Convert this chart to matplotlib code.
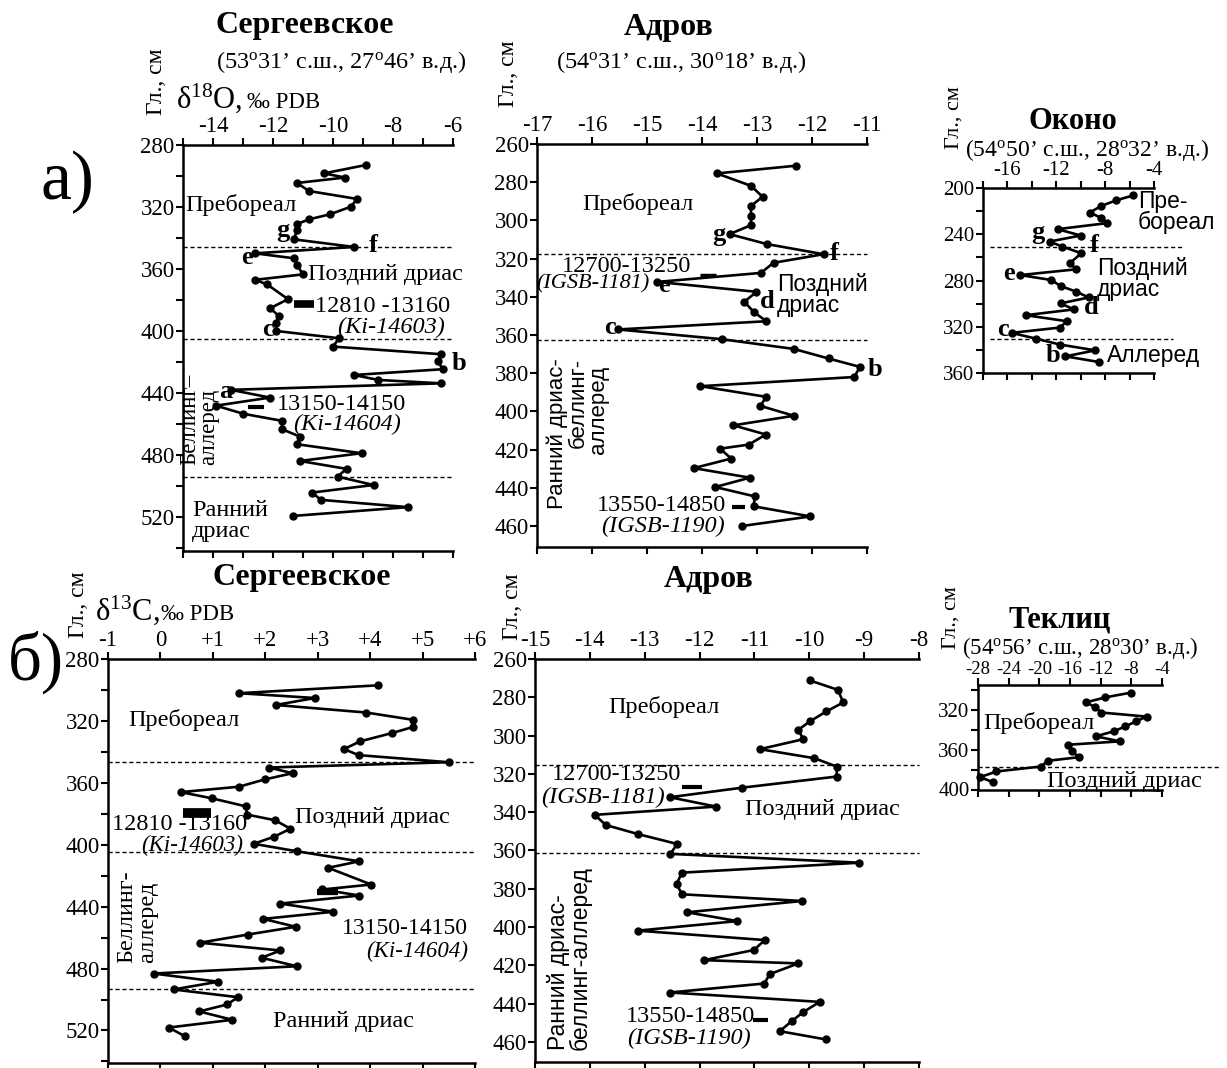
import matplotlib
matplotlib.use("Agg")
import matplotlib.pyplot as plt
import matplotlib.transforms as mtransforms
from matplotlib.ticker import FixedLocator

plt.rcParams['font.family'] = ['Liberation Serif', 'DejaVu Serif']
plt.rcParams['mathtext.fontset'] = 'custom'
plt.rcParams['mathtext.rm'] = 'Liberation Serif'
plt.rcParams['mathtext.default'] = 'regular'
plt.rcParams['axes.unicode_minus'] = False

# ---- а) δ18O, Сергеевское
serg_o_depth = [292.9, 298.3, 301.0, 304.5, 309.7, 314.8, 319.8, 324.7, 328.0, 331.0,
                334.8, 340.9, 345.8, 349.9, 353.1, 357.4, 363.5, 367.0, 369.9, 379.5,
                385.4, 390.3, 394.6, 400.0, 404.7, 410.1, 415.0, 419.4, 424.7, 428.4,
                431.6, 433.8, 438.0, 443.0, 448.2, 453.4, 458.0, 463.4, 468.2, 473.1,
                478.9, 483.9, 489.0, 494.0, 499.4, 504.3, 509.0, 513.7, 519.4]
serg_o_val = [-8.9, -10.3, -9.6, -11.2, -10.8, -9.2, -9.4, -10.1, -10.8, -11.2,
              -11.2, -11.3, -9.3, -12.6, -11.3, -11.2, -11.0, -12.6, -12.2, -11.5,
              -12.1, -11.8, -11.9, -11.9, -9.8, -10.0, -6.4, -6.5, -6.35, -9.3,
              -8.5, -6.4, -13.4, -12.1, -13.9, -13.0, -11.7, -11.7, -11.1, -11.2,
              -9.05, -11.1, -9.55, -9.85, -8.65, -10.7, -10.4, -7.5, -11.35]
serg_o_bounds = [345.8, 405.0, 494.0]
serg_o_date_depth = [382.3, 449.0]
serg_o_date_lo = [-11.3, -12.85]
serg_o_date_hi = [-10.65, -12.3]

# ---- а) δ18O, Адров
adr_o_depth = [271.4, 275.4, 281.9, 287.6, 292.5, 297.6, 302.5, 307.2, 312.4, 317.7,
               322.2, 327.5, 332.2, 337.4, 342.6, 347.9, 352.8, 357.1, 362.2, 367.3,
               372.3, 376.7, 382.0, 386.8, 392.4, 397.1, 402.3, 407.3, 412.1, 417.4,
               419.5, 424.7, 429.7, 434.7, 439.6, 444.5, 449.7, 455.0, 460.0]
adr_o_val = [-12.3, -13.73, -13.11, -12.9, -13.11, -13.11, -13.11, -13.5, -12.82, -11.79,
             -12.7, -12.93, -14.81, -13.01, -13.23, -13.06, -12.83, -15.53, -13.64, -12.33,
             -11.7, -11.13, -11.23, -14.03, -12.83, -12.94, -12.33, -13.43, -12.84, -13.15,
             -13.67, -13.47, -14.15, -13.13, -13.76, -13.04, -13.06, -12.03, -13.27]
adr_o_bounds = [317.7, 362.4]
adr_o_date_depth = [328.5, 450.3]
adr_o_date_lo = [-14.03, -13.45]
adr_o_date_hi = [-13.74, -13.21]

# ---- а) δ18O, Оконо
okono_depth = [206.4, 210.7, 215.4, 221.2, 226.0, 230.4, 235.6, 241.1, 246.3, 250.7,
               256.4, 265.1, 270.3, 275.3, 279.6, 284.8, 289.7, 294.7, 299.8, 305.0,
               310.0, 315.2, 320.7, 325.3, 330.2, 335.4, 340.4, 345.6, 350.5]
okono_val = [-5.7, -7.1, -8.3, -9.25, -8.3, -7.85, -11.9, -10.0, -12.55, -11.5,
             -9.95, -10.9, -10.35, -14.95, -12.4, -11.65, -10.35, -9.35, -11.65, -10.55,
             -14.5, -11.15, -11.7, -15.65, -13.7, -11.7, -8.8, -11.25, -8.5]
okono_bounds = [250.7, 330.8]

# ---- б) δ13C, Сергеевское
serg_c_depth = [297.0, 302.1, 305.2, 309.7, 314.6, 319.3, 323.9, 327.9, 333.2, 338.2,
                342.1, 346.7, 350.1, 353.8, 357.8, 362.5, 366.0, 370.0, 375.2, 380.5,
                384.2, 389.7, 394.9, 399.4, 404.2, 410.7, 414.9, 425.7, 428.9, 432.8,
                438.0, 443.3, 447.9, 453.0, 458.0, 463.3, 468.3, 473.0, 478.5, 483.2,
                488.5, 493.5, 498.5, 503.2, 507.7, 513.1, 518.1, 523.6]
serg_c_val = [4.15, 1.5, 2.95, 2.2, 3.93, 4.82, 4.82, 4.41, 3.81, 3.5,
              3.78, 5.5, 2.07, 2.52, 1.99, 1.5, 0.39, 0.98, 1.63, 1.65,
              2.19, 2.48, 2.16, 1.78, 2.6, 3.79, 3.2, 4.02, 3.09, 3.79,
              2.29, 3.3, 1.96, 2.58, 1.67, 0.75, 2.29, 1.93, 2.6, -0.13,
              1.1, 0.25, 1.48, 1.27, 0.74, 1.37, 0.16, 0.46]
serg_c_bounds = [346.7, 404.6, 493.5]
serg_c_date_depth = [379.5, 430.5]
serg_c_date_lo = [0.43, 2.99]
serg_c_date_hi = [0.96, 3.39]

# ---- б) δ13C, Адров
adr_c_depth = [271.2, 276.1, 282.7, 287.4, 292.6, 297.0, 301.9, 307.1, 311.8, 316.2,
               321.4, 327.2, 332.2, 337.1, 341.4, 346.7, 351.4, 356.6, 361.8, 366.4,
               371.6, 377.5, 382.9, 386.4, 392.3, 396.9, 401.9, 406.8, 412.0, 417.3,
               419.0, 424.6, 429.5, 434.2, 439.1, 444.6, 449.2, 454.4, 458.7]
adr_c_val = [-9.99, -9.48, -9.38, -9.69, -9.99, -10.2, -10.11, -10.9, -9.91, -9.5,
             -9.5, -11.22, -12.54, -11.7, -13.91, -13.71, -13.13, -12.41, -12.53, -9.09,
             -12.32, -12.42, -12.32, -10.13, -12.23, -11.31, -13.13, -10.81, -11.01, -11.92,
             -10.2, -10.72, -10.82, -12.54, -9.81, -10.12, -10.32, -10.54, -9.7]
adr_c_bounds = [315.6, 361.5]
adr_c_date_depth = [327.0, 448.6]
adr_c_date_lo = [-12.32, -11.03]
adr_c_date_hi = [-11.96, -10.76]

# ---- Теклиц
tekl_depth = [302.2, 307.0, 312.0, 317.0, 322.3, 326.4, 331.3, 336.3, 341.0, 346.3,
              351.4, 354.8, 361.3, 367.4, 371.0, 376.8, 381.8, 387.5, 392.5]
tekl_val = [-8.05, -11.4, -13.9, -12.7, -11.9, -6.0, -7.4, -8.8, -10.2, -12.6,
            -9.5, -16.2, -15.75, -14.85, -18.87, -19.8, -25.6, -27.7, -26.1]
tekl_bounds = [377.0]

W, H = 1227, 1068
fig = plt.figure(figsize=(W / 100, H / 100), dpi=100)
fig.patch.set_facecolor('white')

FS = 17.5      # annotation text
TS = 16.5      # tick labels
TITLE = 23


def T(px, py, s, **kw):
    kw.setdefault('va', 'center')
    kw.setdefault('ha', 'left')
    kw.setdefault('fontsize', FS)
    return fig.text(px / W, 1 - py / H, s, **kw)


def make_axes(x0, x1, y0, y1, xlim, ylim, xmaj, xmin, ymaj, ymin, tsize=TS):
    ax = fig.add_axes([x0 / W, 1 - y1 / H, (x1 - x0) / W, (y1 - y0) / H])
    ax.patch.set_alpha(0)
    ax.spines['right'].set_visible(False)
    for s in ['left', 'top', 'bottom']:
        ax.spines[s].set_linewidth(1.8)
    ax.set_xlim(*xlim)
    ax.set_ylim(ylim[1], ylim[0])
    ax.xaxis.set_major_locator(FixedLocator(xmaj))
    ax.xaxis.set_minor_locator(FixedLocator(xmin))
    ax.yaxis.set_major_locator(FixedLocator(ymaj))
    ax.yaxis.set_minor_locator(FixedLocator(ymin))
    ax.tick_params(axis='x', which='both', top=True, bottom=True, labeltop=True,
                   labelbottom=False, direction='out', length=5, width=1.5, pad=1,
                   labelsize=tsize)
    ax.tick_params(axis='y', which='both', left=True, right=False, direction='out',
                   length=5, width=1.5, pad=1, labelsize=tsize)
    return ax


def profile(ax, vals, depth):
    ax.plot(vals, depth, '-o', color='black', lw=1.9, ms=5, clip_on=False, zorder=3)


def bounds(ax, ys, x0=0.0, x1=1.0):
    tr = mtransforms.blended_transform_factory(ax.transAxes, ax.transData)
    for y in ys:
        ax.plot([x0, x1], [y, y], color='black', lw=1.0, ls=(0, (3, 2)),
                transform=tr, clip_on=False, zorder=2)


def dates(ax, depth, lo, hi, widths):
    for d, a, b, w in zip(depth, lo, hi, widths):
        ax.plot([a, b], [d, d], color='black', lw=w, solid_capstyle='butt', zorder=3)


def rng(a, b, step):
    out = []
    v = a
    while v <= b + 1e-9:
        out.append(round(v, 6))
        v += step
    return out


sans = ['Liberation Sans', 'DejaVu Sans']
bold = dict(fontweight='bold', fontsize=19)

# ===================== а) Сергеевское δ18O
ax1 = make_axes(183, 453, 145, 551, (-15, -6), (280, 542),
                rng(-14, -6, 2), rng(-15, -6, 1), rng(280, 520, 40), rng(280, 540, 20))
profile(ax1, serg_o_val, serg_o_depth)
bounds(ax1, serg_o_bounds)
dates(ax1, serg_o_date_depth, serg_o_date_lo, serg_o_date_hi, [5.5, 3])

T(305, 25, 'Сергеевское', ha='center', fontweight='bold', fontsize=TITLE)
T(216, 62, '(53$^{o}$31’ с.ш., 27$^{o}$46’ в.д.)', fontsize=17.5)
T(176, 98, 'δ$^{18}$O,', fontsize=22)
T(247, 102, '‰ PDB', fontsize=16.5)
T(156, 82, 'Гл., см', rotation=90, ha='center', fontsize=17)
T(67, 182, 'а)', ha='center', fontsize=50)

T(185, 205, 'Пребореал')
T(283, 230, 'g', ha='center', **bold)
T(373, 246, 'f', ha='center', **bold)
T(247, 257, 'e', ha='center', **bold)
T(308, 274, 'Поздний дриас')
T(315, 307, '12810 -13160')
T(445, 327, '(Ki-14603)', ha='right', style='italic')
T(268, 330, 'c', ha='center', **bold)
T(459, 363, 'b', ha='center', **bold)
T(226, 392, 'a', ha='center', **bold)
T(277, 405, '13150-14150')
T(401, 424, '(Ki-14604)', ha='right', style='italic')
T(190, 465, 'Беллинг–', rotation=90, ha='center', va='bottom', fontsize=16.5)
T(209, 465, 'аллеред', rotation=90, ha='center', va='bottom', fontsize=16.5)
T(192, 521, 'Ранний\nдриас', linespacing=0.95)

# ===================== а) Адров δ18O
ax2 = make_axes(537, 867, 144, 547, (-17, -11), (260, 471),
                rng(-17, -11, 1), [], rng(260, 460, 20), [])
profile(ax2, adr_o_val, adr_o_depth)
bounds(ax2, adr_o_bounds)
dates(ax2, adr_o_date_depth, adr_o_date_lo, adr_o_date_hi, [2.5, 3])

T(669, 27, 'Адров', ha='center', fontweight='bold', fontsize=TITLE)
T(556, 62, '(54$^{o}$31’ с.ш., 30$^{o}$18’ в.д.)', fontsize=17.5)
T(508, 74, 'Гл., см', rotation=90, ha='center', fontsize=17)

T(582, 204, 'Пребореал')
T(719, 234, 'g', ha='center', **bold)
T(834, 253, 'f', ha='center', **bold)
T(562, 266, '12700-13250')
T(536, 284, '(IGSB-1181)', style='italic', fontsize=16)
T(664, 286, 'e', ha='center', **bold)
T(767, 302, 'd', ha='center', **bold)
T(777, 295, 'Поздний\nдриас', family=sans, fontsize=16.5, linespacing=0.9)
T(610, 327, 'c', ha='center', **bold)
T(875, 369, 'b', ha='center', **bold)
T(557, 358, 'Ранний дриас-', rotation=90, ha='center', va='top', family=sans, fontsize=16)
T(578, 358, 'беллинг-', rotation=90, ha='center', va='top', family=sans, fontsize=16)
T(599, 366, 'аллеред', rotation=90, ha='center', va='top', family=sans, fontsize=16)
T(597, 506, '13550-14850')
T(601, 526, '(IGSB-1190)', style='italic')

# ===================== а) Оконо δ18O
ax3 = make_axes(983, 1154, 188, 373, (-18, -4), (200, 360),
                rng(-16, -4, 4), rng(-18, -4, 2), rng(200, 360, 40), rng(200, 360, 20),
                tsize=15)
profile(ax3, okono_val, okono_depth)
bounds(ax3, okono_bounds[:1], 0.04, 1.17)
bounds(ax3, okono_bounds[1:], 0.04, 1.11)

T(1073, 122, 'Оконо', ha='center', fontweight='bold', fontsize=22)
T(965, 150, '(54$^{o}$50’ с.ш., 28$^{o}$32’ в.д.)', fontsize=17)
T(954, 118, 'Гл., см', rotation=90, ha='center', fontsize=16)

T(1138, 212, 'Пре-\nбореал', family=sans, fontsize=16.5, linespacing=0.9)
T(1038, 232, 'g', ha='center', **bold)
T(1094, 246, 'f', ha='center', **bold)
T(1097, 279, 'Поздний\nдриас', family=sans, fontsize=16.5, linespacing=0.9)
T(1009, 273, 'e', ha='center', **bold)
T(1091, 307, 'd', ha='center', **bold)
T(1003, 329, 'c', ha='center', **bold)
T(1053, 356, 'b', ha='center', **bold)
T(1107, 356, 'Аллеред', family=sans, fontsize=16.5)

# ===================== б) Сергеевское δ13C
ax4 = make_axes(108, 475, 659, 1063, (-1, 6), (280, 541),
                rng(-1, 6, 1), [], rng(280, 520, 40), rng(280, 540, 20))
ax4.set_xticklabels(['-1', '0', '+1', '+2', '+3', '+4', '+5', '+6'])
profile(ax4, serg_c_val, serg_c_depth)
bounds(ax4, serg_c_bounds)
dates(ax4, serg_c_date_depth, serg_c_date_lo, serg_c_date_hi, [7, 4.5])

T(302, 578, 'Сергеевское', ha='center', fontweight='bold', fontsize=TITLE)
T(95, 610, 'δ$^{13}$C,', fontsize=22)
T(161, 614, '‰ PDB', fontsize=16.5)
T(78, 605, 'Гл., см', rotation=90, ha='center', fontsize=17)
T(36, 662, 'б)', ha='center', fontsize=48)

T(128, 720, 'Пребореал')
T(295, 817, 'Поздний дриас')
T(112, 825, '12810 -13160')
T(243, 845, '(Ki-14603)', ha='right', style='italic', fontsize=16.5)
T(127, 963, 'Беллинг-', rotation=90, ha='center', va='bottom')
T(148, 963, 'аллеред', rotation=90, ha='center', va='bottom')
T(342, 929, '13150-14150', fontsize=17)
T(468, 951, '(Ki-14604)', ha='right', style='italic', fontsize=16.5)
T(273, 1022, 'Ранний дриас')

# ===================== б) Адров δ13C
ax5 = make_axes(535, 919, 659, 1062, (-15, -8), (260, 470.5),
                rng(-15, -8, 1), [], rng(260, 460, 20), [])
profile(ax5, adr_c_val, adr_c_depth)
bounds(ax5, adr_c_bounds)
dates(ax5, adr_c_date_depth, adr_c_date_lo, adr_c_date_hi, [3, 3])

T(709, 580, 'Адров', ha='center', fontweight='bold', fontsize=TITLE)
T(513, 607, 'Гл., см', rotation=90, ha='center', fontsize=17)

T(608, 707, 'Пребореал')
T(552, 775, '12700-13250')
T(541, 797, '(IGSB-1181)', style='italic')
T(745, 810, 'Поздний дриас')
T(558, 1050, 'Ранний дриас-', rotation=90, ha='center', va='bottom', family=sans, fontsize=16.5)
T(580, 1050, 'беллинг-аллеред', rotation=90, ha='center', va='bottom', family=sans, fontsize=16.5)
T(626, 1016, '13550-14850')
T(627, 1038, '(IGSB-1190)', style='italic')

# ===================== Теклиц
ax6 = make_axes(978, 1162, 685, 789.5, (-28, -4), (294.5, 400),
                rng(-28, -4, 4), [], [320, 360, 400], rng(300, 400, 20), tsize=15)
ax6.tick_params(axis='x', labelsize=13.5, pad=0)
profile(ax6, tekl_val, tekl_depth)
bounds(ax6, tekl_bounds, 0.0, 1.32)

T(1060, 620, 'Теклиц', ha='center', fontweight='bold', fontsize=22)
T(962, 648, '(54$^{o}$56’ с.ш., 28$^{o}$30’ в.д.)', fontsize=16.5)
T(951, 618, 'Гл., см', rotation=90, ha='center', fontsize=16)
T(983, 723, 'Пребореал')
T(1047, 781, 'Поздний дриас')

fig.savefig('out.png', dpi=100, facecolor='white')
